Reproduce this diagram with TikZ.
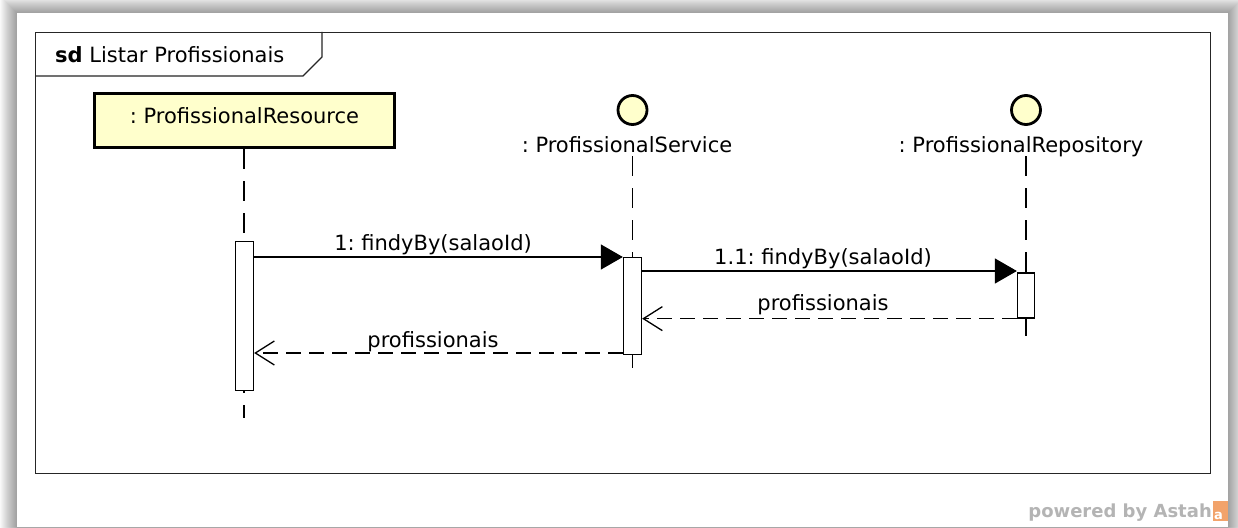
\documentclass[tikz,border=0pt]{standalone}
\usepackage{fontspec}
\setmainfont{DejaVu Sans}
\frenchspacing
\usetikzlibrary{arrows.meta}
\definecolor{lifey}{HTML}{FFFFCC}
\definecolor{astahgray}{HTML}{B4B4B4}
\definecolor{astahorange}{HTML}{F2A36B}
\tikzset{
 lbl/.style={font=\fontsize{21}{25}\selectfont, inner sep=0pt, anchor=base},
 lifeline/.style={line width=1.3pt, dash pattern=on 20pt off 12pt},
 actbox/.style={draw, fill=white, line width=1.3pt, inner sep=0pt},
 callmsg/.style={line width=1.3pt, -{Triangle[length=22pt,width=25pt]}},
 retmsg/.style={line width=1.3pt, dash pattern=on 15pt off 8pt, -{Straight Barb[length=19pt,width=24pt]}},
 headcirc/.style={circle, draw, line width=2.8pt, fill=lifey, minimum size=29pt, inner sep=0pt},
 framebox/.style={draw=black!85, line width=1.3pt},
}
\begin{document}
\begin{tikzpicture}[x=1pt,y=-1pt]
\useasboundingbox (0,0) rectangle (1238,527);
% page shadow
\fill[white] (0,0) rectangle (1238,527);
\foreach \i in {0,...,17} { \fill[black, opacity=0.025] ({17-\i},{13-\i}) rectangle ({1228+\i},540); }
\fill[white] (17,13) rectangle (1228,527);

% frame
\node[framebox, minimum width=1175pt, minimum height=441pt, inner sep=0pt, anchor=north west] (frame) at (35,32) {};
\coordinate (tabA) at (35,76);
\coordinate (tabB) at (303,76);
\coordinate (tabC) at (322,57);
\coordinate (tabD) at (322,32);
\draw[framebox] (tabA) -- (tabB) -- (tabC) -- (tabD);
\node[lbl, anchor=base west] (sdlabel) at (55,63) {\textbf{sd} Listar Profissionais};

% resource
\node[draw, line width=3pt, fill=lifey, minimum width=300pt, minimum height=54pt, inner sep=0pt] (res) at (244.5,120.5) {};
\node[lbl] (resl) at (244.5,123) {: ProfissionalResource};

% service and repository heads
\node[headcirc] (srvc) at (632.5,110) {};
\node[lbl] (srvl) at (627,152) {: ProfissionalService};
\node[headcirc] (repc) at (1026,110) {};
\node[lbl] (repl) at (1021,152) {: ProfissionalRepository};

% lifelines
\coordinate (resEnd) at (244,418);
\coordinate (srvTop) at (632.5,156);
\coordinate (srvEnd) at (632.5,375);
\coordinate (repTop) at (1026,156);
\coordinate (repEnd) at (1026,342);
\draw[lifeline] (res.south -| resEnd) -- (resEnd);
\draw[lifeline] (srvTop) -- (srvEnd);
\draw[lifeline] (repTop) -- (repEnd);

% activations
\node[actbox, minimum width=18pt, minimum height=149pt] (act1) at (244.5,316) {};
\node[actbox, minimum width=18pt, minimum height=97pt] (act2) at (632.5,306) {};
\node[actbox, minimum width=17pt, minimum height=45pt] (act3) at (1026,295.5) {};

% messages
\draw[callmsg] (act1.east |- 0,257) -- (act2.west |- 0,257);
\node[lbl] (m1l) at (433,250) {1: findyBy(salaoId)};
\draw[callmsg] (act2.east |- 0,271) -- (act3.west |- 0,271);
\node[lbl] (m2l) at (823,264) {1.1: findyBy(salaoId)};
\draw[retmsg] (act3.south west) -- (act2.east |- act3.south);
\node[lbl] (r1l) at (823,310) {profissionais};
\draw[retmsg] (act2.west |- 0,353) -- (act1.east |- 0,353);
\node[lbl] (r2l) at (433,347) {profissionais};

% footer
\node[font=\fontsize{18}{20}\selectfont\bfseries, text=astahgray, anchor=base east, inner sep=0pt] (astah) at (1212,517) {powered by Astah};
\node[fill=astahorange, minimum width=15pt, minimum height=20pt, inner sep=0pt, anchor=south west] (logo) at (1213,521) {};
\node[text=white, font=\fontsize{13}{13}\selectfont\bfseries, inner sep=0pt, anchor=base west] (logoa) at (1214,519) {a};
\end{tikzpicture}
\end{document}
